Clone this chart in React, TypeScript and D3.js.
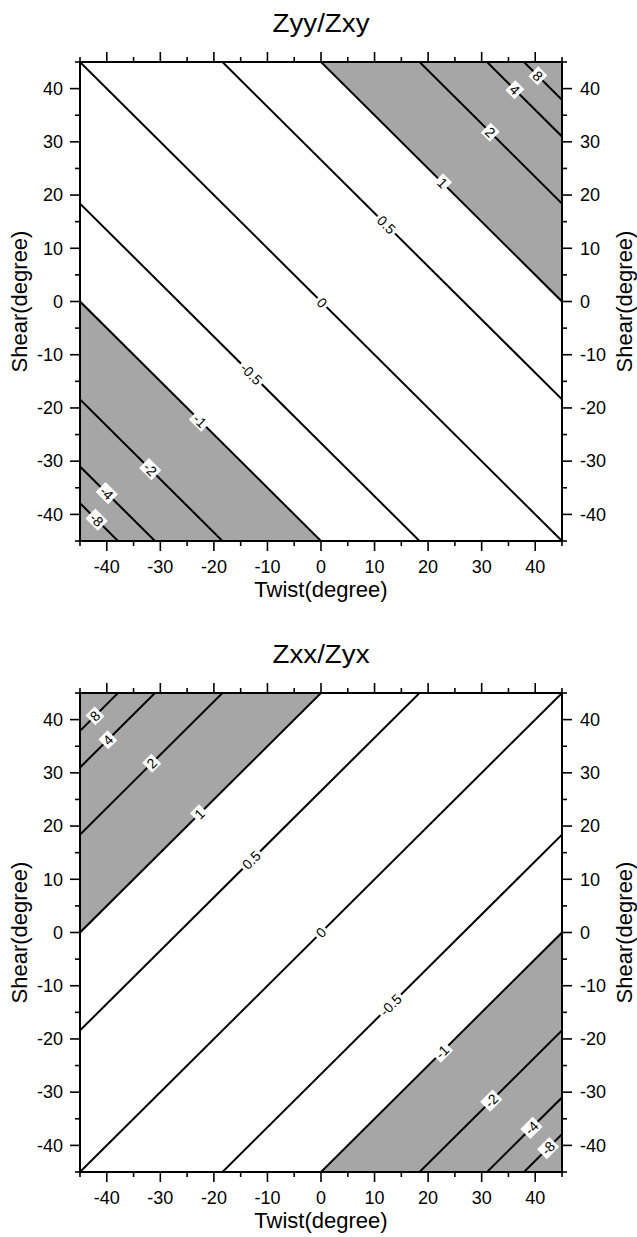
import React from "react";
import * as d3 from "d3";

const W = 637;
const H = 1237;
const DOMAIN: [number, number] = [-45, 45];
const MAJOR_TICKS = [-40, -30, -20, -10, 0, 10, 20, 30, 40];
const MINOR_TICKS = [-45, -35, -25, -15, -5, 5, 15, 25, 35, 45];

const LEVELS = [-8, -4, -2, -1, -0.5, 0, 0.5, 1, 2, 4, 8];
const LEVEL_LABELS = ["-8", "-4", "-2", "-1", "-0.5", "0", "0.5", "1", "2", "4", "8"];
// contour lines: twist + shear = intercept (degrees)
const TOP_INTERCEPTS = [-82.9, -76.0, -63.4, -45, -26.6, 0, 26.6, 45, 63.4, 76.0, 82.9];
const TOP_LABEL_TWIST = [-41.9, -40.0, -31.9, -22.6, -13.0, 0.2, 12.2, 22.7, 31.6, 36.2, 40.5];
// shear - twist = intercept (degrees)
const BOTTOM_INTERCEPTS = [-82.9, -76.0, -63.4, -45, -26.6, 0, 26.6, 45, 63.4, 76.0, 82.9];
const BOTTOM_LABEL_TWIST = [42.4, 39.3, 31.8, 22.6, 13.0, 0, -13.0, -22.7, -31.6, -39.8, -42.2];
const SHADE_LEVEL = 1;

const FONT = "'Liberation Sans', Arial, Helvetica, sans-serif";

type PanelProps = {
  id: string;
  title: string;
  top: number;
  slope: number; // shear = intercept - slope * twist
  intercepts: number[];
  labelTwist: number[];
};

function textWidth(s: string, size: number) {
  let w = 0;
  for (const ch of s) {
    if (ch === "-") w += 0.333;
    else if (ch === ".") w += 0.278;
    else w += 0.556;
  }
  return w * size;
}

function clipHalf(poly: [number, number][], f: (p: [number, number]) => number) {
  const out: [number, number][] = [];
  for (let i = 0; i < poly.length; i++) {
    const p = poly[i];
    const q = poly[(i + 1) % poly.length];
    const fp = f(p);
    const fq = f(q);
    if (fp >= 0) out.push(p);
    if ((fp >= 0) !== (fq >= 0)) {
      const t = fp / (fp - fq);
      out.push([p[0] + t * (q[0] - p[0]), p[1] + t * (q[1] - p[1])]);
    }
  }
  return out;
}

function Panel({ id, title, top, slope, intercepts, labelTwist }: PanelProps) {
  const left = 80;
  const right = 562;
  const bottom = top + 479;
  const x = d3.scaleLinear().domain(DOMAIN).range([left, right]);
  const y = d3.scaleLinear().domain(DOMAIN).range([bottom, top]);
  const box: [number, number][] = [
    [DOMAIN[0], DOMAIN[0]],
    [DOMAIN[1], DOMAIN[0]],
    [DOMAIN[1], DOMAIN[1]],
    [DOMAIN[0], DOMAIN[1]],
  ];
  const g = (p: [number, number]) => p[1] + slope * p[0];
  const cPos = intercepts[LEVELS.indexOf(SHADE_LEVEL)];
  const cNeg = intercepts[LEVELS.indexOf(-SHADE_LEVEL)];
  const polyPos = clipHalf(box, (p) => g(p) - cPos);
  const polyNeg = clipHalf(box, (p) => cNeg - g(p));
  const line = d3
    .line<[number, number]>()
    .x((d) => x(d[0]))
    .y((d) => y(d[1]));
  const toPath = (poly: [number, number][]) =>
    poly.length ? line(poly)! + "Z" : "";

  const angle = (Math.atan2(y(-slope) - y(0), x(1) - x(0)) * 180) / Math.PI;
  const cx = (left + right) / 2;
  const cy = (top + bottom) / 2;
  const labelSize = 14;

  return (
    <g>
      <defs>
        <clipPath id={id}>
          <rect x={left} y={top} width={right - left} height={bottom - top} />
        </clipPath>
      </defs>
      <text
        x={cx}
        y={top - 30}
        textAnchor="middle"
        fontSize={25}
        fontFamily={FONT}
        textLength={97}
        lengthAdjust="spacingAndGlyphs"
      >
        {title}
      </text>
      <rect x={left} y={top} width={right - left} height={bottom - top} fill="#fff" />
      <g clipPath={`url(#${id})`}>
        <path d={toPath(polyPos)} fill="#a6a6a6" />
        <path d={toPath(polyNeg)} fill="#a6a6a6" />
        {intercepts.map((c, i) => {
          const pts: [number, number][] = [
            [-60, c - slope * -60],
            [60, c - slope * 60],
          ];
          return (
            <path key={i} d={line(pts)!} stroke="#000" strokeWidth={2} fill="none" />
          );
        })}
      </g>
      {LEVEL_LABELS.map((lab, i) => {
        const tx = labelTwist[i];
        const ty = intercepts[i] - slope * tx;
        const w = textWidth(lab, labelSize) + 5;
        return (
          <g key={lab} transform={`translate(${x(tx)},${y(ty)}) rotate(${angle})`}>
            <rect x={-w / 2} y={-7} width={w} height={14} fill="#fff" />
            <text
              x={0}
              y={0}
              dy="0.36em"
              textAnchor="middle"
              fontSize={labelSize}
              fontFamily={FONT}
            >
              {lab}
            </text>
          </g>
        );
      })}
      <rect
        x={left}
        y={top}
        width={right - left}
        height={bottom - top}
        fill="none"
        stroke="#000"
        strokeWidth={2}
      />
      {MAJOR_TICKS.map((t) => (
        <g key={"M" + t} stroke="#000" strokeWidth={1.6}>
          <line x1={x(t)} x2={x(t)} y1={bottom} y2={bottom + 10} />
          <line x1={x(t)} x2={x(t)} y1={top} y2={top - 10} />
          <line x1={left} x2={left - 10} y1={y(t)} y2={y(t)} />
          <line x1={right} x2={right + 10} y1={y(t)} y2={y(t)} />
        </g>
      ))}
      {MINOR_TICKS.map((t) => (
        <g key={"m" + t} stroke="#000" strokeWidth={1.6}>
          <line x1={x(t)} x2={x(t)} y1={bottom} y2={bottom + 5} />
          <line x1={x(t)} x2={x(t)} y1={top} y2={top - 5} />
          <line x1={left} x2={left - 5} y1={y(t)} y2={y(t)} />
          <line x1={right} x2={right + 5} y1={y(t)} y2={y(t)} />
        </g>
      ))}
      {MAJOR_TICKS.map((t) => (
        <g key={"L" + t} fontSize={18} fontFamily={FONT}>
          <text x={x(t)} y={bottom + 31.5} textAnchor="middle">
            {t}
          </text>
          <text x={left - 17} y={y(t)} dy="0.35em" textAnchor="end">
            {t}
          </text>
          <text x={right + 18} y={y(t)} dy="0.35em" textAnchor="start">
            {t}
          </text>
        </g>
      ))}
      <text x={cx} y={bottom + 56} textAnchor="middle" fontSize={22} fontFamily={FONT}>
        Twist(degree)
      </text>
      <text
        transform={`translate(26.5,${cy}) rotate(-90)`}
        textAnchor="middle"
        fontSize={22}
        fontFamily={FONT}
      >
        Shear(degree)
      </text>
      <text
        transform={`translate(632,${cy}) rotate(-90)`}
        textAnchor="middle"
        fontSize={22}
        fontFamily={FONT}
      >
        Shear(degree)
      </text>
    </g>
  );
}

export default function App() {
  return (
    <svg
      width={W}
      height={H}
      viewBox={`0 0 ${W} ${H}`}
      style={{ position: "absolute", left: 0, top: 0, background: "#fff" }}
    >
      <rect x={0} y={0} width={W} height={H} fill="#fff" />
      <Panel
        id="clipTop"
        title="Zyy/Zxy"
        top={62}
        slope={1}
        intercepts={TOP_INTERCEPTS}
        labelTwist={TOP_LABEL_TWIST}
      />
      <Panel
        id="clipBottom"
        title="Zxx/Zyx"
        top={693}
        slope={-1}
        intercepts={BOTTOM_INTERCEPTS}
        labelTwist={BOTTOM_LABEL_TWIST}
      />
    </svg>
  );
}
